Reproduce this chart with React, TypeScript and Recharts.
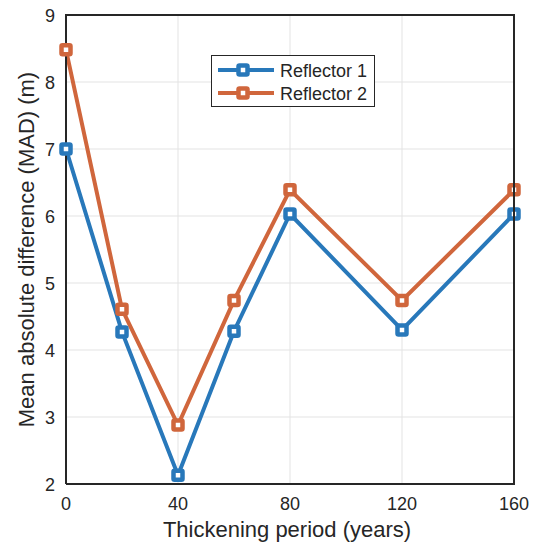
import { LineChart, Line, XAxis, YAxis, CartesianGrid } from 'recharts'

const periods = [0, 20, 40, 60, 80, 120, 160]
const reflector1 = [7.0, 4.27, 2.13, 4.28, 6.03, 4.3, 6.03]
const reflector2 = [8.48, 4.61, 2.88, 4.74, 6.39, 4.74, 6.39]
const xTicks = [0, 40, 80, 120, 160]
const yTicks = [2, 3, 4, 5, 6, 7, 8, 9]

const BLUE = '#2878ba'
const ORANGE = '#d0663c'
const INK = '#262626'
const FONT = 'Liberation Sans, Arial, sans-serif'

const W = 546
const H = 549
const MARGIN = { top: 15, right: 32, left: 0, bottom: 0 }
const Y_AXIS_W = 66
const X_AXIS_H = 65
const PLOT_LEFT = MARGIN.left + Y_AXIS_W
const PLOT_TOP = MARGIN.top
const PLOT_RIGHT = W - MARGIN.right
const PLOT_BOTTOM = H - MARGIN.bottom - X_AXIS_H

const data = periods.map((p, i) => ({ period: p, r1: reflector1[i], r2: reflector2[i] }))

const series = [
  { key: 'r1', name: 'Reflector 1', color: BLUE },
  { key: 'r2', name: 'Reflector 2', color: ORANGE },
]

const Marker = ({ x, y, color }: { x: number; y: number; color: string }) => (
  <rect x={x - 4.5} y={y - 4.5} width={9} height={9} rx={1}
    fill="#fff" stroke={color} strokeWidth={4.5} />
)

const squareDot = (color: string) => (props: any) => {
  const { cx, cy, index } = props
  if (cx == null || cy == null) return <g key={index} />
  return <Marker key={index} x={cx} y={cy} color={color} />
}

const LeftTick = ({ x, y, payload }: any) => (
  <text x={x - 11} y={y} dy={6.5} textAnchor="end" fontSize={18} fontFamily={FONT} fill={INK}>{payload.value}</text>
)
const BottomTick = ({ x, y, payload }: any) => (
  <text x={x} y={y} dy={26} textAnchor="middle" fontSize={18} fontFamily={FONT} fill={INK}>{payload.value}</text>
)

// top and right edges of the axes box
const BoxEdges = () => (
  <svg width={W} height={H} style={{ position: 'absolute', left: 0, top: 0, pointerEvents: 'none' }}>
    <path d={`M${PLOT_LEFT - 1},${PLOT_TOP}H${PLOT_RIGHT}V${PLOT_BOTTOM + 1}`}
      stroke={INK} strokeWidth={2} fill="none" />
  </svg>
)

const LegendBox = () => (
  <div style={{
    position: 'absolute', left: 211, top: 55, width: 162, height: 50,
    border: `1.5px solid ${INK}`, background: '#fff',
  }}>
    <svg width={162} height={50} style={{ display: 'block' }}>
      {series.map((s, i) => {
        const y = 14 + i * 23
        return (
          <g key={s.key}>
            <line x1={6} x2={62} y1={y} y2={y} stroke={s.color} strokeWidth={4} />
            <Marker x={31} y={y} color={s.color} />
            <text x={68} y={y} dy={6.5} fontSize={18} fontFamily={FONT} fill={INK}>{s.name}</text>
          </g>
        )
      })}
    </svg>
  </div>
)

export default function App() {
  return (
    <div style={{ position: 'absolute', left: 0, top: 0, width: W, height: H, background: '#fff' }}>
      <LineChart width={W} height={H} data={data} margin={MARGIN}>
        <CartesianGrid stroke="#e3e3e3" strokeWidth={1} />
        <XAxis dataKey="period" type="number" domain={[0, 160]} ticks={xTicks} height={X_AXIS_H}
          tickLine={false} tickSize={0} tickMargin={0} tick={<BottomTick />}
          axisLine={{ stroke: INK, strokeWidth: 2 }}
          label={{ value: 'Thickening period (years)', position: 'center', dx: -3, dy: 13, fontSize: 22, fontFamily: FONT, fill: INK }} />
        <YAxis type="number" domain={[2, 9]} ticks={yTicks} width={Y_AXIS_W} interval={0}
          tickLine={false} tickSize={0} tickMargin={0} tick={<LeftTick />}
          axisLine={{ stroke: INK, strokeWidth: 2 }}
          label={{ value: 'Mean absolute difference (MAD) (m)', angle: -90, position: 'center', dx: -7, fontSize: 22, fontFamily: FONT, fill: INK }} />
        {series.map((s) => (
          <Line key={s.key} dataKey={s.key} name={s.name} type="linear" stroke={s.color} strokeWidth={4}
            dot={squareDot(s.color)} activeDot={false} isAnimationActive={false} />
        ))}
      </LineChart>
      <BoxEdges />
      <LegendBox />
    </div>
  )
}
